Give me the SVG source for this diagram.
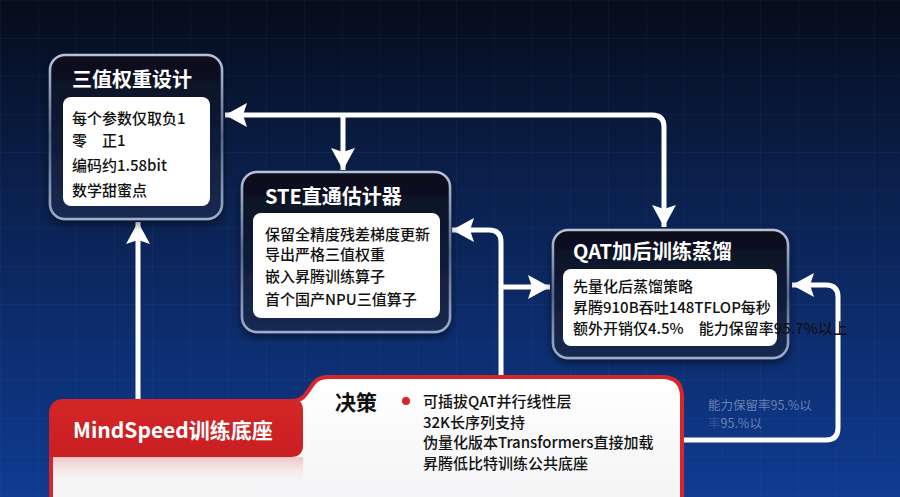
<svg xmlns="http://www.w3.org/2000/svg" width="900" height="497" viewBox="0 0 900 497">
<defs>
<linearGradient id="bg" x1="0" y1="0" x2="0" y2="1">
<stop offset="0" stop-color="#050c1a"/>
<stop offset="0.35" stop-color="#0a1f4a"/>
<stop offset="1" stop-color="#0f3b91"/>
</linearGradient>
<linearGradient id="boxfill" x1="0" y1="0" x2="0" y2="1">
<stop offset="0" stop-color="#070d1c"/>
<stop offset="1" stop-color="#182a52"/>
</linearGradient>
<linearGradient id="boxstroke" x1="0" y1="0" x2="0" y2="1">
<stop offset="0" stop-color="#b9c3d8"/>
<stop offset="0.5" stop-color="#56668a"/>
<stop offset="1" stop-color="#a0aecb"/>
</linearGradient>
<linearGradient id="tab" x1="0" y1="0" x2="0" y2="1">
<stop offset="0" stop-color="#d42626"/>
<stop offset="1" stop-color="#c81f24"/>
</linearGradient>
<linearGradient id="card" x1="0" y1="0" x2="0" y2="1">
<stop offset="0" stop-color="#ffffff"/>
<stop offset="1" stop-color="#f3f3f5"/>
</linearGradient>
<linearGradient id="tabshadow" x1="0" y1="0" x2="0" y2="1">
<stop offset="0" stop-color="#e8a0a4" stop-opacity="0.6"/>
<stop offset="1" stop-color="#ffffff" stop-opacity="0"/>
</linearGradient>
<pattern id="grid" width="38" height="38" patternUnits="userSpaceOnUse">
<path d="M38,0 L0,0 0,38" fill="none" stroke="#5f86d6" stroke-width="1" stroke-opacity="0.12"/>
</pattern>
<marker id="ah" markerUnits="userSpaceOnUse" markerWidth="24" markerHeight="26" refX="22" refY="12" orient="auto-start-reverse" viewBox="0 0 24 26">
<path d="M0,0 L22,12 L0,24 L4,12 Z" fill="#ffffff"/>
</marker>
<filter id="sh" x="-10%" y="-10%" width="120%" height="130%">
<feDropShadow dx="0" dy="4" stdDeviation="4" flood-color="#000000" flood-opacity="0.5"/>
</filter>
</defs>
<style>
.box{fill:url(#boxfill);stroke:url(#boxstroke);stroke-width:2.5}
.panel{fill:#ffffff}
.title{font-family:"Noto Sans CJK SC","Noto Sans",sans-serif;font-weight:700;font-size:20px;fill:#ffffff}
.body{font-family:"Noto Sans CJK SC","Noto Sans",sans-serif;font-weight:500;font-size:15px;fill:#111111}
.conn{fill:none;stroke:#ffffff;stroke-width:5;stroke-linejoin:round}
.ghost{font-family:"Noto Sans CJK SC","Noto Sans",sans-serif;font-size:12.5px;fill:#a9b8d6;fill-opacity:0.6}
</style>
<rect width="900" height="497" fill="url(#bg)"/>
<rect width="900" height="497" fill="url(#grid)"/>

<g id="connectors">
<path class="conn" d="M225,115 L652,115 Q664,115 664,127 L664,227" marker-start="url(#ah)" marker-end="url(#ah)"/>
<path class="conn" d="M343,115 L343,170" marker-end="url(#ah)"/>
<path class="conn" d="M501,378 L501,242 Q501,230 489,230 L452,230" marker-end="url(#ah)"/>
<path class="conn" d="M501,287 L550,287" marker-end="url(#ah)"/>
<path class="conn" d="M138,402 L138,222" marker-end="url(#ah)"/>
<path class="conn" d="M684,440 L826,440 Q838,440 838,428 L838,297 Q838,285 826,285 L792,285" marker-end="url(#ah)"/>
</g>

<g id="ghost-label">
<text class="ghost" x="708" y="410">能力保留率95.%以</text>
<text class="ghost" x="708" y="428"><tspan fill-opacity="0.25">率</tspan>95.%以</text>
</g>

<g id="node-ternary">
<rect class="box" x="50" y="55" width="172" height="164" rx="15" filter="url(#sh)"/>
<rect class="panel" x="63" y="97" width="147" height="109" rx="8"/>
<text class="title" x="72" y="87">三值权重设计</text>
<text class="body" x="72" y="124">每个参数仅取负1</text>
<text class="body" x="72" y="146">零　正1</text>
<text class="body" x="72" y="171">编码约1.58bit</text>
<text class="body" x="72" y="196">数学甜蜜点</text>
</g>

<g id="node-ste">
<rect class="box" x="242" y="172" width="208" height="160" rx="15" filter="url(#sh)"/>
<rect class="panel" x="253" y="213" width="187" height="105" rx="8"/>
<text class="title" x="265" y="204">STE直通估计器</text>
<text class="body" x="265" y="240">保留全精度残差梯度更新</text>
<text class="body" x="265" y="260">导出严格三值权重</text>
<text class="body" x="265" y="282">嵌入昇腾训练算子</text>
<text class="body" x="265" y="305">首个国产NPU三值算子</text>
</g>

<g id="node-qat">
<rect class="box" x="553" y="230" width="235" height="128" rx="15" filter="url(#sh)"/>
<rect class="panel" x="563" y="269" width="214" height="77" rx="8"/>
<text class="title" x="573" y="259">QAT加后训练蒸馏</text>
<text class="body" x="573" y="292">先量化后蒸馏策略</text>
<text class="body" x="573" y="313">昇腾910B吞吐148TFLOP每秒</text>
<text class="body" x="573" y="334">额外开销仅4.5%　能力保留率95.7%以上</text>
</g>

<g id="node-mindspeed">
<path d="M51,510 L51,415 Q51,401 65,401 L292,401 Q301,401 306,394 L313,384 Q318,377 328,377 L662,377 Q682,377 682,397 L682,510 Z" fill="url(#card)" stroke="#d7262b" stroke-width="4"/>
<rect x="53" y="457" width="250" height="30" fill="url(#tabshadow)"/>
<path d="M49,415 Q49,399 65,399 L292,399 Q303,399 303,410 L303,445 Q303,457 291,457 L49,457 Z" fill="url(#tab)"/>
<text x="73" y="438" font-family="'Noto Sans CJK SC','Noto Sans',sans-serif" font-weight="600" font-size="21" fill="#ffffff">MindSpeed训练底座</text>
<text x="335" y="410" font-family="'Noto Sans CJK SC','Noto Sans',sans-serif" font-weight="700" font-size="21" fill="#111111">决策</text>
<circle cx="406" cy="401" r="4" fill="#d7262b"/>
<text class="body" x="423" y="407">可插拔QAT并行线性层</text>
<text class="body" x="423" y="428">32K长序列支持</text>
<text class="body" x="423" y="448">伪量化版本Transformers直接加载</text>
<text class="body" x="423" y="469">昇腾低比特训练公共底座</text>
</g>
</svg>
